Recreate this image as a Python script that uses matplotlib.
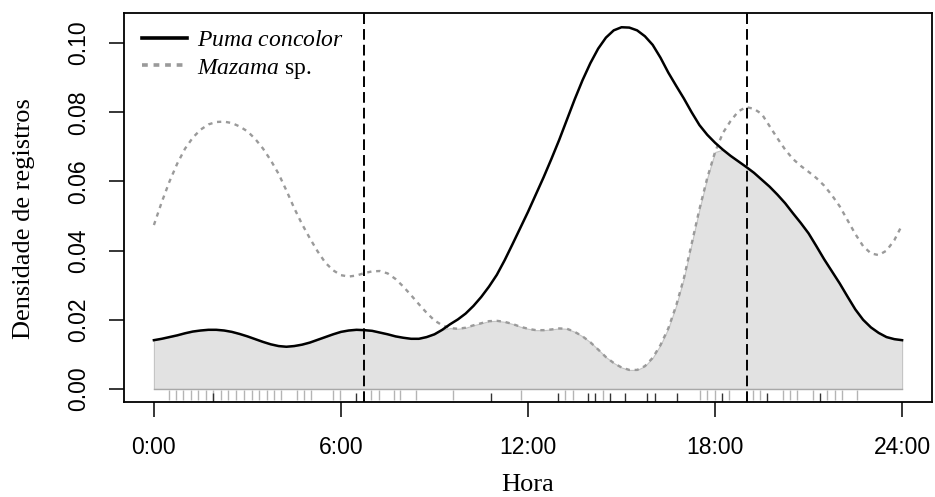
import matplotlib
matplotlib.use('Agg')
import matplotlib.pyplot as plt
import numpy as np
from matplotlib.lines import Line2D

plt.rcParams['mathtext.fontset'] = 'custom'
plt.rcParams['mathtext.it'] = 'Liberation Serif:italic'
plt.rcParams['mathtext.rm'] = 'Liberation Serif'

# density curves read every quarter hour, 0:00 to 24:00
hours = np.arange(0, 24.01, 0.25)
puma = [0.0141, 0.0145, 0.0150, 0.0155, 0.0161, 0.0166, 0.0169, 0.0171,
        0.0171, 0.0169, 0.0165, 0.0159, 0.0152, 0.0144, 0.0136, 0.0129,
        0.0124, 0.0122, 0.0124, 0.0128, 0.0134, 0.0142, 0.0150, 0.0158,
        0.0165, 0.0169, 0.0171, 0.0170, 0.0168, 0.0163, 0.0158, 0.0152,
        0.0148, 0.0145, 0.0145, 0.0150, 0.0158, 0.0171, 0.0187, 0.0201,
        0.0218, 0.0240, 0.0266, 0.0296, 0.0330, 0.0372, 0.0418, 0.0465,
        0.0512, 0.0562, 0.0612, 0.0665, 0.0720, 0.0779, 0.0838, 0.0893,
        0.0942, 0.0984, 0.1016, 0.1037, 0.1046, 0.1045, 0.1037, 0.1020,
        0.0995, 0.0958, 0.0915, 0.0877, 0.0840, 0.0800, 0.0763, 0.0735,
        0.0712, 0.0692, 0.0674, 0.0658, 0.0642, 0.0625, 0.0605, 0.0585,
        0.0562, 0.0537, 0.0508, 0.0480, 0.0450, 0.0413, 0.0375, 0.0340,
        0.0305, 0.0267, 0.0230, 0.0200, 0.0178, 0.0162, 0.0150, 0.0144,
        0.0141]
mazama = [0.0474, 0.0540, 0.0600, 0.0652, 0.0695, 0.0727, 0.0750, 0.0765,
          0.0772, 0.0773, 0.0769, 0.0759, 0.0745, 0.0723, 0.0695, 0.0661,
          0.0622, 0.0574, 0.0523, 0.0477, 0.0436, 0.0398, 0.0365, 0.0343,
          0.0329, 0.0325, 0.0328, 0.0335, 0.0340, 0.0341, 0.0334, 0.0318,
          0.0296, 0.0271, 0.0245, 0.0220, 0.0198, 0.0184, 0.0176, 0.0174,
          0.0177, 0.0184, 0.0190, 0.0196, 0.0197, 0.0194, 0.0188, 0.0180,
          0.0174, 0.0170, 0.0170, 0.0172, 0.0175, 0.0174, 0.0165, 0.0152,
          0.0135, 0.0114, 0.0092, 0.0075, 0.0062, 0.0055, 0.0055, 0.0066,
          0.0090, 0.0127, 0.0175, 0.0240, 0.0320, 0.0420, 0.0520, 0.0610,
          0.0685, 0.0740, 0.0775, 0.0803, 0.0815, 0.0810, 0.0795, 0.0760,
          0.0725, 0.0692, 0.0665, 0.0645, 0.0628, 0.0610, 0.0588, 0.0560,
          0.0528, 0.0488, 0.0448, 0.0413, 0.0392, 0.0387, 0.0400, 0.0430,
          0.0474]

# detection times (rug)
puma_obs = [1.90, 6.48, 10.80, 12.96, 13.92, 14.16, 14.63, 15.12, 15.83, 16.06, 16.79,
            18.22, 19.68, 21.37]
mazama_obs = [0.49, 0.71, 0.94, 1.18, 1.43, 1.67, 1.90, 2.14, 2.37, 2.63, 2.89, 3.14, 3.38,
              3.62, 3.85, 4.09, 4.58, 4.81, 5.03, 5.75, 5.97, 6.97, 7.21, 7.70, 7.91, 8.41,
              9.60, 11.76, 13.20, 13.43, 14.39, 17.52, 17.75, 17.99, 18.46, 19.21, 19.44,
              20.17, 20.40, 20.64, 21.13, 21.60, 21.84, 22.07, 22.56]

sunrise, sunset = 6.74, 19.02
xticks = [0, 6, 12, 18, 24]
xticklabels = ['0:00', '6:00', '12:00', '18:00', '24:00']
yticks = [0.0, 0.02, 0.04, 0.06, 0.08, 0.10]

fig = plt.figure(figsize=(9.35, 4.97), dpi=100)
ax = fig.add_axes([0.1326, 0.1917, 0.8642, 0.7827])

overlap = np.minimum(np.array(puma), np.array(mazama))
ax.fill_between(hours, 0, overlap, facecolor='#e2e2e2', edgecolor='#c4c4c4', lw=0.8)
ax.plot([hours[0], hours[-1]], [0, 0], color='#a8a8a8', lw=1.0)

ax.vlines(mazama_obs, -0.0032, -0.0003, color='#b4b4b4', lw=1.0)
ax.vlines(puma_obs, -0.0040, -0.0012, color='#333333', lw=1.0)

ax.plot(hours, mazama, color='#9a9a9a', lw=1.7, linestyle=(0, (1.8, 2.0)))
ax.plot(hours, puma, color='black', lw=1.8)

for t in (sunrise, sunset):
    ax.axvline(t, color='black', lw=1.4, linestyle=(0, (5.5, 2.6)))

ax.set_xlim(-0.96, 24.96)
ax.set_ylim(-0.0037, 0.1088)
ax.set_xticks(xticks)
ax.set_xticklabels(xticklabels, fontsize=16.5, family='Liberation Sans')
ax.set_yticks(yticks)
ax.set_yticklabels(['%.2f' % v for v in yticks], fontsize=16.5, family='Liberation Sans',
                   rotation=90, va='center')
ax.tick_params(length=10.5, width=1.1, pad=14)
for s in ax.spines.values():
    s.set_linewidth(1.3)

ax.set_xlabel('Hora', fontsize=19, family='Liberation Serif')
ax.xaxis.set_label_coords(0.5, -0.185)
ax.set_ylabel('Densidade de registros', fontsize=19, family='Liberation Serif')
ax.yaxis.set_label_coords(-0.11, 0.47)

handles = [Line2D([], [], color='black', lw=2.6),
           Line2D([], [], color='#9a9a9a', lw=2.6, linestyle=(0, (1.6, 1.6)))]
labels = [r'$\mathit{Puma\ concolor}$', r'$\mathit{Mazama}$ sp.']
ax.legend(handles, labels, loc='upper left', bbox_to_anchor=(0.0223, 0.957),
          frameon=False, borderpad=0, borderaxespad=0, handlelength=1.9,
          handletextpad=0.45, labelspacing=0.235,
          prop={'family': 'Liberation Serif', 'size': 17})

fig.savefig('out.png', dpi=100)
